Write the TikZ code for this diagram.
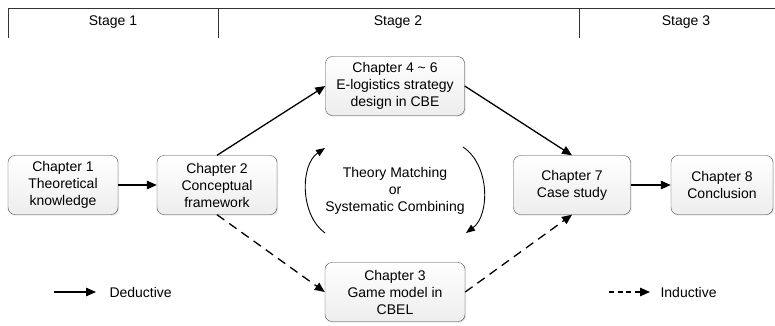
\documentclass[tikz,border=0pt]{standalone}
\usepackage{fontspec}
\setmainfont{Liberation Sans}
\usepackage{tikz}
\usetikzlibrary{arrows.meta,shadows}

\begin{document}
\begin{tikzpicture}[x=1pt, y=-1pt, every node/.style={font=\fontsize{14}{17}\selectfont},
	chap/.style={draw=gray!55!black, rounded corners=7pt, top color=white, bottom color=gray!14, drop shadow={opacity=0.2, shadow xshift=1.2pt, shadow yshift=-1.2pt}, align=center, inner sep=0pt, minimum height=59pt},
	ded/.style={line width=1.3pt, -{Triangle[length=10pt,width=8.5pt]}},
	ind/.style={ded, dash pattern=on 9pt off 6pt},
	turn/.style={line width=0.9pt, -{Triangle[length=9pt,width=7pt]}}]
		\useasboundingbox (0,0) rectangle (775,325);
		% stages
		\draw[gray!40!black, line width=0.8pt] (8,38) -- (8,8) -- (775,8);
		\draw[gray!40!black, line width=0.8pt] (218,8) -- (218,38);
		\draw[gray!40!black, line width=0.8pt] (579,8) -- (579,38);
		\node (s1)at(113,22) {Stage 1};
		\node (s2)at(398,22) {Stage 2};
		\node (s3)at(686,22) {Stage 3};
		% chapters
		\node[chap, minimum width=110pt] (c1)at(63,185) {Chapter 1\\Theoretical\\knowledge};
		\node[chap, minimum width=120pt] (c2)at(217,185) {Chapter 2\\Conceptual\\framework};
		\node[chap, minimum width=139pt] (c46)at(395,86) {Chapter 4 \textasciitilde{} 6\\E-logistics strategy\\design in CBE};
		\node[chap, minimum width=140pt] (c3)at(395,292) {Chapter 3\\Game model in\\CBEL};
		\node[chap, minimum width=117pt] (c7)at(572,185) {Chapter 7\\Case study};
		\node[chap, minimum width=102pt] (c8)at(722,185) {Chapter 8\\Conclusion};
		\node[align=center] (tm)at(395,191) {Theory Matching\\or\\Systematic Combining};
		\draw[ded] (c1) -- (c2);
		\draw[ded] (c2.north) -- (c46.west);
		\draw[ded] (c46.east) -- (c7.north);
		\draw[ind] (c2.south) -- (c3.west);
		\draw[ind] (c3.east) -- (c7.south);
		\draw[ded] (c7) -- (c8);
		% cycle
		\coordinate (l1)at(325,233);
		\coordinate (l2)at(325,148);
		\coordinate (r1)at(463,147);
		\coordinate (r2)at(466,233);
		\draw[turn] (l1) .. controls (300,215) and (300,165) .. (l2);
		\draw[turn] (r1) .. controls (490,165) and (490,215) .. (r2);
		% legend
		\coordinate (d1)at(54,292);
		\coordinate (d2)at(96,292);
		\coordinate (i1)at(609,292);
		\coordinate (i2)at(650,292);
		\draw[ded] (d1) -- (d2);
		\draw[ind, dash pattern=on 5pt off 3.5pt] (i1) -- (i2);
		\node[anchor=west] (dl)at(106,292) {Deductive};
		\node[anchor=west] (il)at(657,292) {Inductive};
	\end{tikzpicture}
\end{document}
